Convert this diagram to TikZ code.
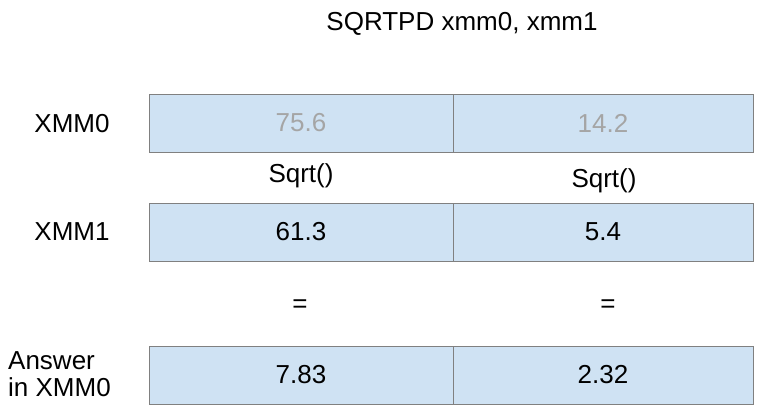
\documentclass[tikz,border=0pt]{standalone}
\usepackage{fontspec}
\setmainfont{Liberation Sans}
\begin{document}
\begin{tikzpicture}[x=1pt,y=-1pt,
  cell/.style={draw=black!50, fill={rgb,255:red,207;green,226;blue,243}, line width=0.9pt, minimum width=304pt, minimum height=58pt, inner sep=0pt, font=\fontsize{26}{30}\selectfont},
  lbl/.style={inner sep=0pt, font=\fontsize{26}{30}\selectfont},
  faded/.style={text={rgb,255:red,165;green,165;blue,165}}]
\useasboundingbox (0,0) rectangle (763,413);
\node[lbl] (title) at (462,24) {SQRTPD xmm0, xmm1};
% row 1
\node[cell, faded, minimum width=304pt] (a1) at (301,123) {75.6};
\node[cell, faded, minimum width=300pt] (a2) at (603,123) {14.2};
\node[lbl] (l1) at (72,124) {XMM0};
\node[lbl] (s1) at (301,176) {Sqrt()};
\node[lbl] (s2) at (604,181) {Sqrt()};
% row 2
\node[cell, minimum width=304pt] (b1) at (301,232) {61.3};
\node[cell, minimum width=300pt] (b2) at (603,232) {5.4};
\node[lbl] (l2) at (72,232) {XMM1};
\node[lbl] (e1) at (300,306) {=};
\node[lbl] (e2) at (608,306) {=};
% row 3
\node[cell, minimum width=304pt] (c1) at (301,375) {7.83};
\node[cell, minimum width=300pt] (c2) at (603,375) {2.32};
\node[lbl, align=left, anchor=west, font=\fontsize{26}{27}\selectfont] (l3) at (8,374) {Answer\\in XMM0};
\end{tikzpicture}
\end{document}
